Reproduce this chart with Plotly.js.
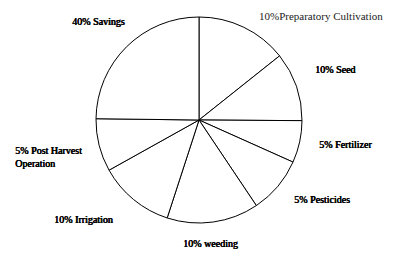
<!DOCTYPE html>
<html>
<head>
<meta charset="utf-8">
<script src="https://cdn.plot.ly/plotly-3.0.1.min.js"></script>
<style>html,body{margin:0;padding:0;background:#fff;}#chart{width:408px;height:269px;}</style>
</head>
<body>
<div id="chart"></div>
<script>
// Slice names and printed labels (as written on the chart)
var categories = ["Preparatory Cultivation", "Seed", "Fertilizer", "Pesticides", "weeding", "Irrigation", "Post Harvest Operation", "Savings"];
var labelTexts = ["10%Preparatory Cultivation", "10% Seed", "5% Fertilizer", "5% Pesticides", "10% weeding", "10% Irrigation", "5% Post Harvest<br>Operation", "40% Savings"];
// Slice sizes as drawn in the picture (share of the circle, %)
var sliceShares = [14.3, 10.8, 6.6, 8.9, 14.4, 11.9, 8.3, 24.8];

var labelPos = [
  {x: 257, y: 16, bold: false},
  {x: 313, y: 70, bold: true},
  {x: 317, y: 144, bold: true},
  {x: 292, y: 199, bold: true},
  {x: 181, y: 243, bold: true},
  {x: 52, y: 219, bold: true},
  {x: 13, y: 157, bold: true},
  {x: 70, y: 21, bold: true}
];

var W = 408, H = 269;
var annotations = labelTexts.map(function (t, i) {
  var p = labelPos[i];
  return {
    text: t,
    x: p.x / W, y: 1 - p.y / H, xref: "paper", yref: "paper",
    xanchor: "left", yanchor: "middle", align: "left", showarrow: false,
    font: {
      family: "Liberation Serif", size: p.bold ? 10 : 11,
      color: p.bold ? "#000" : "#222",
      shadow: p.bold ? "0.6px 0 0 #000, 0.3px 0 0 #000" : "none"
    }
  };
});

var data = [{
  type: "pie",
  labels: categories,
  values: sliceShares,
  sort: false,
  direction: "clockwise",
  rotation: 0,
  textinfo: "none",
  hoverinfo: "label+percent",
  marker: {colors: categories.map(function () { return "#ffffff"; }), line: {color: "#000", width: 1}},
  domain: {x: [95 / W, 303 / W], y: [1 - 223 / H, 1 - 17 / H]},
  showlegend: false
}];

var layout = {
  width: W, height: H,
  margin: {l: 0, r: 0, t: 0, b: 0},
  paper_bgcolor: "#fff",
  plot_bgcolor: "#fff",
  font: {family: "Liberation Serif"},
  showlegend: false,
  annotations: annotations
};

Plotly.newPlot("chart", data, layout, {displayModeBar: false, staticPlot: true});
</script>
</body>
</html>
